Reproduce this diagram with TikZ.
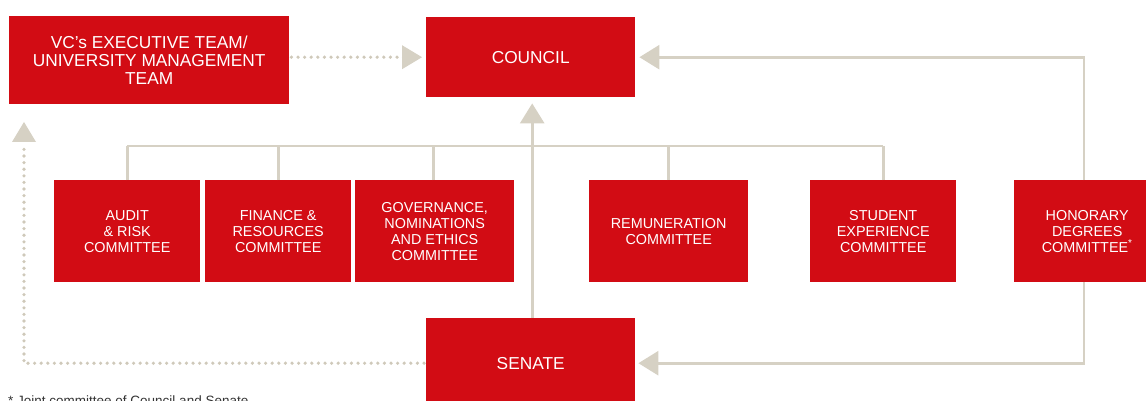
\documentclass[tikz,border=0pt]{standalone}
\usepackage{fontspec}
\setmainfont{Liberation Sans}
\usetikzlibrary{arrows.meta}
\definecolor{boxred}{HTML}{D20C14}
\definecolor{linebeige}{HTML}{D6D1C4}
\definecolor{dotbeige}{HTML}{CFC9BA}
\definecolor{notegray}{HTML}{333333}
\tikzset{
  redbox/.style={fill=boxred, text=white, inner sep=0pt, align=center, anchor=north west},
  bigtext/.style={font=\fontsize{17.3}{18.2}\selectfont},
  smalltext/.style={font=\fontsize{14.4}{16}\selectfont},
  committee/.style={redbox, smalltext, minimum height=102pt},
  conn/.style={draw=linebeige, line width=2.8pt},
  tipped/.style={-{Triangle[length=20pt,width=24pt]}},
  dotline/.style={draw=dotbeige, line width=3.6pt, line cap=round, dash pattern=on 0pt off 6.6pt}
}
\begin{document}
\begin{tikzpicture}[x=1pt,y=-1pt]
\useasboundingbox (0,0) rectangle (1146,401);
\clip (0,0) rectangle (1146,401);

% main boxes
\node[redbox, bigtext, minimum width=280pt, minimum height=88pt] (vc) at (9,16)
  {VC's EXECUTIVE TEAM/\\UNIVERSITY MANAGEMENT\\TEAM};
\node[redbox, bigtext, minimum width=209pt, minimum height=80pt] (council) at (426,17) {COUNCIL};
\node[redbox, bigtext, minimum width=209pt, minimum height=90pt] (senate) at (426,318) {SENATE};

% committees
\node[committee, minimum width=146pt] (audit) at (54,180) {AUDIT\\\& RISK\\COMMITTEE};
\node[committee, minimum width=146pt] (fin) at (205,180) {FINANCE \&\\RESOURCES\\COMMITTEE};
\node[committee, minimum width=159pt] (gov) at (355,180) {GOVERNANCE,\\NOMINATIONS\\AND ETHICS\\COMMITTEE};
\node[committee, minimum width=159pt] (rem) at (589,180) {REMUNERATION\\COMMITTEE};
\node[committee, minimum width=146pt] (stu) at (810,180) {STUDENT\\EXPERIENCE\\COMMITTEE};
\node[committee, minimum width=146pt] (hon) at (1014,180) {HONORARY\\DEGREES\\COMMITTEE\textsuperscript{*}};

% helper coordinates
\coordinate (bus) at (0,146);
\coordinate (hx) at (1084,0);
\coordinate (la) at (24,104);

% committee bus
\draw[conn] (audit.north |- bus) -- (stu.north |- bus);
\foreach \c in {audit,fin,rem,stu} {
  \draw[conn] (\c.north) -- (\c.north |- bus);
}
\draw[conn] ([xshift=-1.5pt]gov.north) -- ([xshift=-1.5pt]gov.north |- bus);

% senate to council
\draw[conn, tipped, shorten >=6pt] ([xshift=1.5pt]senate.north) -- ([xshift=1.5pt]council.south);

% honorary to council and senate
\draw[conn, tipped, shorten >=4pt] (hon.north -| hx) |- (council.east);
\draw[conn, tipped, shorten >=3pt] (hon.south -| hx) |- (senate.east);

% dotted links
\draw[dotline] ([xshift=2pt]vc.east |- council.west) -- ([xshift=-22pt]council.west);
\fill[linebeige] ([xshift=-4pt]council.west) -- ++(-20,-12) -- ++(0,24) -- cycle;

\draw[dotline] ([xshift=-2pt]senate.west) -| ([yshift=-40pt]la);
\fill[linebeige] ([yshift=-18pt]la) -- ++(-12,20) -- ++(24,0) -- cycle;

% footnote (cut off at the lower edge, as in the reference)
\node[anchor=base west, inner sep=0pt, text=notegray, font=\fontsize{13.5}{15}\selectfont] (note) at (8,405.5)
  {* Joint committee of Council and Senate};
\end{tikzpicture}
\end{document}
